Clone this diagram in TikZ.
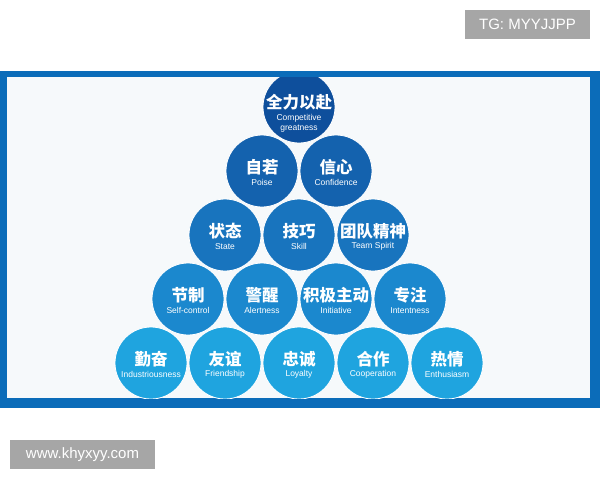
\documentclass[tikz,border=0pt]{standalone}
\usepackage{fontspec}
\setmainfont{Liberation Sans}
\setsansfont{Liberation Sans}
\newfontfamily\cjk{Noto Sans CJK SC}[BoldFont={Noto Sans CJK SC Black}]
\definecolor{frameblue}{HTML}{0B6CB9}
\definecolor{innerbg}{HTML}{F6F9FB}
\definecolor{tagbg}{HTML}{A6A6A6}
\definecolor{rowa}{HTML}{0E4F9C}
\definecolor{rowb}{HTML}{1462AE}
\definecolor{rowc}{HTML}{1874BE}
\definecolor{rowd}{HTML}{1B88CE}
\definecolor{rowe}{HTML}{1FA4DF}
\tikzset{
  tagbox/.style={fill=tagbg, text=white, inner sep=0pt, font=\fontsize{15}{17}\selectfont},
  ball/.style={circle, minimum size=72pt, inner sep=0pt, draw=white, line width=0.8pt},
  zhtext/.style={text=white, inner sep=0pt, font=\cjk\bfseries\fontsize{16.5}{18}\selectfont},
  entext/.style={text=white, inner sep=0pt, align=center, font=\fontsize{8.5}{10}\selectfont}
}
\newcommand{\pill}[5]{%
  \node[ball, fill=#3] (#1) at (#2) {};
  \node[zhtext] (#1z) at ([yshift=3.5pt]#1.center) {#4};
  \node[entext] (#1e) at ([yshift=-11.5pt]#1.center) {#5};
}
\begin{document}
\begin{tikzpicture}[x=1pt,y=-1pt]
\useasboundingbox (0,0) rectangle (600,480);
\fill[white] (0,0) rectangle (600,480);
\node[tagbox, minimum width=125pt, minimum height=29pt] (tg) at (527.5,24.5) {TG: MYYJJPP};
\fill[frameblue] (0,71) rectangle (600,408);
\fill[innerbg] (7,77) rectangle (590,398);
\begin{scope}
\clip (7,77) rectangle (590,398);
% row 1
\node[ball, fill=rowa] (a1) at (299,107) {};
\node[zhtext] (a1z) at ([yshift=5pt]a1.center) {全力以赴};
\node[entext] (a1e) at ([yshift=-16pt]a1.center) {Competitive\\greatness};
% row 2
\pill{b1}{262,171}{rowb}{自若}{Poise}
\pill{b2}{336,171}{rowb}{信心}{Confidence}
% row 3
\pill{c1}{225,235}{rowc}{状态}{State}
\pill{c2}{299,235}{rowc}{技巧}{Skill}
\pill{c3}{373,235}{rowc}{团队精神}{Team Spirit}
% row 4
\pill{d1}{188,299}{rowd}{节制}{Self-control}
\pill{d2}{262,299}{rowd}{警醒}{Alertness}
\pill{d3}{336,299}{rowd}{积极主动}{Initiative}
\pill{d4}{410,299}{rowd}{专注}{Intentness}
% row 5
\pill{e1}{151,363}{rowe}{勤奋}{Industriousness}
\pill{e2}{225,363}{rowe}{友谊}{Friendship}
\pill{e3}{299,363}{rowe}{忠诚}{Loyalty}
\pill{e4}{373,363}{rowe}{合作}{Cooperation}
\pill{e5}{447,363}{rowe}{热情}{Enthusiasm}
\end{scope}
\node[tagbox, minimum width=145pt, minimum height=29pt] (www) at (82.5,454.5) {www.khyxyy.com};
\end{tikzpicture}
\end{document}
